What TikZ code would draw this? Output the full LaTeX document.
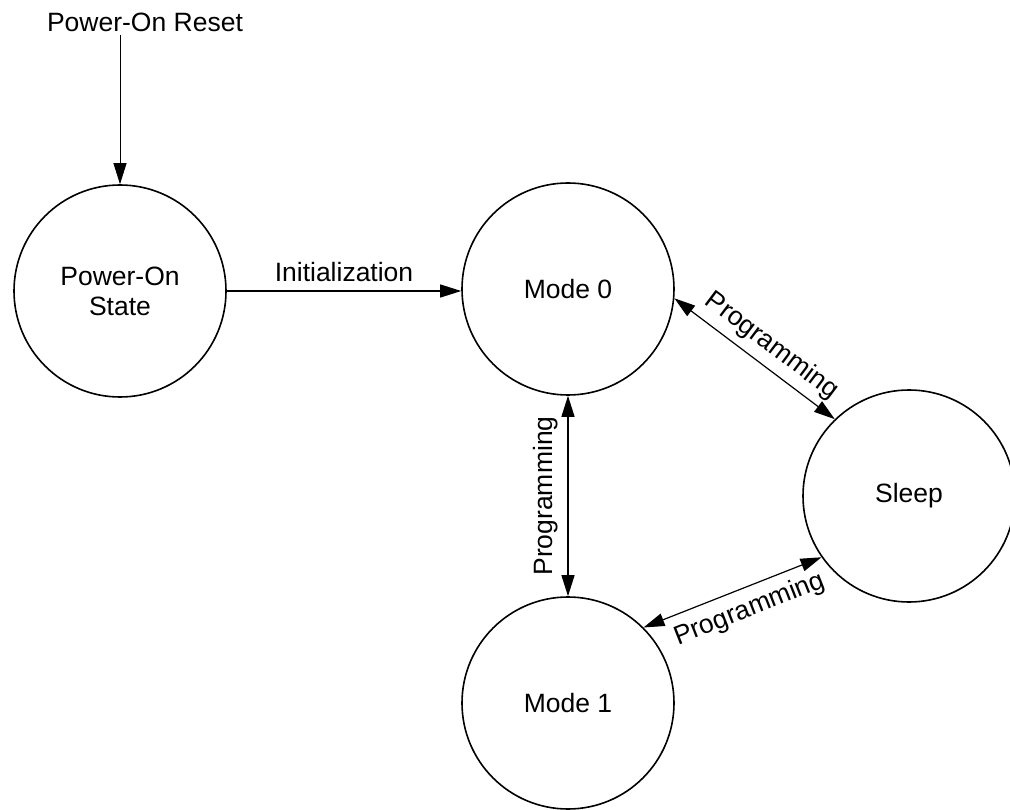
\documentclass[tikz,border=0pt]{standalone}
\usepackage{fontspec}
\setmainfont{Liberation Sans}
\usetikzlibrary{arrows.meta}

\begin{document}
\begin{tikzpicture}[x=1pt, y=-1pt,
        every node/.style={font=\fontsize{26.5}{30}\selectfont},
        state/.style={circle, draw=black, line width=1.6pt, minimum size=212pt,
        inner sep=0pt, align=center},
        trans/.style={line width=1.2pt, -{Triangle[length=21pt,width=13pt]}},
        both/.style={line width=1.2pt,
        {Triangle[length=21pt,width=13pt]}-{Triangle[length=21pt,width=13pt]}}]
    \useasboundingbox (0,0) rectangle (1010,810);
    \node[state] (pos) at (120,291) {Power-On\\State};
    \node[state] (mzero) at (568,289) {Mode 0};
    \node[state] (sleep) at (909,496) {Sleep};
    \node[state] (mone) at (568,703) {Mode 1};
    \node (rst) at (145,22) {Power-On Reset};
    \draw[trans, line width=0.8pt] (rst.south -| pos.north) -- (pos.north);
    \draw[trans] (pos.east) -- (pos.east -| mzero.west) 
        node[midway, above=5pt] {Initialization};
    \draw[both] (mzero.-5) -- (sleep.134) 
        node[pos=0.53, sloped, above=4pt] {Programming};
    \draw[both] (mone.north) -- (mzero.south) 
        node[midway, sloped, above=6pt] {Programming};
    \draw[both] (mone.45) -- (sleep.215) 
        node[pos=0.55, sloped, below=6pt] {Programming};
\end{tikzpicture}
\end{document}
